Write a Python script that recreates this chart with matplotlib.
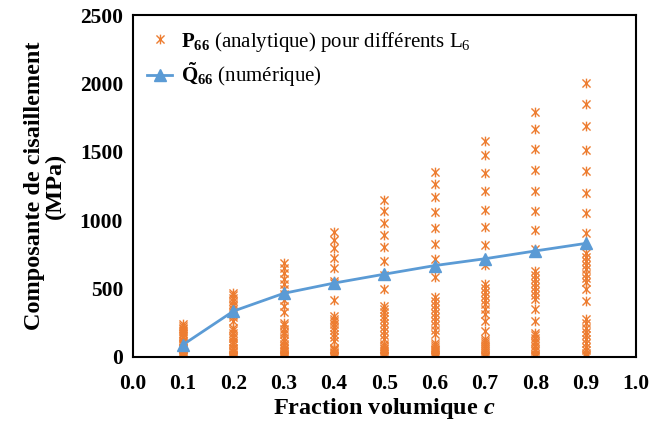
import matplotlib.pyplot as plt
from matplotlib.path import Path
import numpy as np

plt.rcParams['font.family'] = ['Liberation Serif', 'DejaVu Serif']
plt.rcParams['mathtext.fontset'] = 'custom'
plt.rcParams['mathtext.rm'] = 'Liberation Serif'
plt.rcParams['mathtext.bf'] = 'Liberation Serif:bold'
plt.rcParams['mathtext.it'] = 'Liberation Serif:italic:bold'

# fractions volumiques
c_vals = [0.1, 0.2, 0.3, 0.4, 0.5, 0.6, 0.7, 0.8, 0.9]

# P66 analytique pour differents L6 (MPa), une liste par fraction
p66_01 = [240, 228, 215, 203, 190, 178, 165, 150, 135, 120, 105, 95, 85, 75, 65, 55,
          45, 38, 30, 24, 18, 12, 8, 4, 1]
p66_02 = [471, 450, 430, 410, 390, 370, 350, 330, 310, 290, 264, 215, 195, 175, 155,
          140, 120, 100, 85, 68, 56, 45, 35, 25, 15, 8, 3, 0]
p66_03 = [684, 650, 611, 569, 533, 496, 460, 415, 374, 325, 251, 230, 205, 185, 165,
          140, 115, 93, 80, 68, 56, 45, 35, 25, 15, 8, 3, 0]
p66_04 = [911, 858, 794, 723, 647, 557, 540, 415, 300, 280, 260, 240, 220, 195, 170,
          145, 117, 68, 58, 48, 38, 28, 18, 10, 4, 0]
p66_05 = [1144, 1065, 980, 894, 801, 704, 601, 496, 374, 350, 325, 300, 275, 245, 220,
          190, 160, 130, 93, 80, 68, 55, 42, 30, 20, 10, 4, 0]
p66_06 = [1351, 1266, 1168, 1058, 941, 826, 716, 586, 435, 410, 380, 350, 320, 290,
          260, 230, 200, 166, 105, 90, 75, 60, 48, 35, 22, 12, 5, 0]
p66_07 = [1578, 1473, 1346, 1212, 1077, 948, 819, 674, 533, 505, 475, 445, 415, 385,
          350, 313, 264, 191, 130, 115, 100, 85, 70, 55, 40, 28, 16, 7, 0]
p66_08 = [1791, 1664, 1517, 1369, 1212, 1070, 929, 789, 630, 600, 570, 540, 510, 480,
          450, 423, 350, 264, 178, 160, 140, 120, 100, 80, 60, 42, 25, 12, 4, 0]
p66_09 = [2003, 1852, 1688, 1515, 1356, 1200, 1051, 909, 760, 730, 700, 670, 640, 610,
          580, 545, 496, 410, 276, 245, 215, 185, 160, 130, 100, 75, 50, 28, 12, 4]
p66_cols = [p66_01, p66_02, p66_03, p66_04, p66_05, p66_06, p66_07, p66_08, p66_09]

# Q66 numerique (MPa)
q66 = [90, 335, 465, 540, 605, 668, 718, 775, 830]

orange = '#ED7D31'
blue = '#5B9BD5'

# marqueur type Excel : croix + trait vertical
star = Path([(-1, -1), (1, 1), (-1, 1), (1, -1), (0, -1.2), (0, 1.2)],
            [Path.MOVETO, Path.LINETO, Path.MOVETO, Path.LINETO, Path.MOVETO, Path.LINETO])

fig = plt.figure(figsize=(6.51, 4.29), dpi=100)
ax = fig.add_axes([0.204, 0.168, 0.773, 0.797])

xs = []
ys = []
for c, col in zip(c_vals, p66_cols):
    xs += [c] * len(col)
    ys += col
ax.plot(xs, ys, linestyle='none', marker=star, markersize=7, markeredgewidth=1.0,
        color=orange, label=r'$\mathbf{P_{66}}$ (analytique) pour différents L$_6$')
ax.plot(c_vals, q66, color=blue, linewidth=2, marker='^', markersize=8,
        label=r'$\mathbf{\tilde{Q}_{66}}$ (numérique)')

ax.set_xlim(0, 1.0)
ax.set_ylim(0, 2500)
ax.set_xticks(np.arange(0, 1.01, 0.1))
ax.set_xticklabels(['%.1f' % v for v in np.arange(0, 1.01, 0.1)])
ax.set_yticks(np.arange(0, 2501, 500))
ax.tick_params(axis='both', length=0, labelsize=15.5)
ax.tick_params(axis='x', pad=12)
ax.tick_params(axis='y', pad=7)
for lab in ax.get_xticklabels() + ax.get_yticklabels():
    lab.set_fontweight('bold')
for s in ax.spines.values():
    s.set_linewidth(1.5)
    s.set_color('black')

ax.set_xlabel(r'Fraction volumique $c$', fontsize=17.5, fontweight='bold', labelpad=2)
ax.set_ylabel('Composante de cisaillement\n(MPa)', fontsize=17.5, fontweight='bold',
              labelpad=10, linespacing=0.95)

ax.legend(loc='upper left', bbox_to_anchor=(0.0, 1.0), frameon=False, fontsize=15,
          labelspacing=0.35, handlelength=1.2, handletextpad=0.4, borderaxespad=0.1,
          borderpad=0.6)

fig.savefig('out.png', dpi=100)
